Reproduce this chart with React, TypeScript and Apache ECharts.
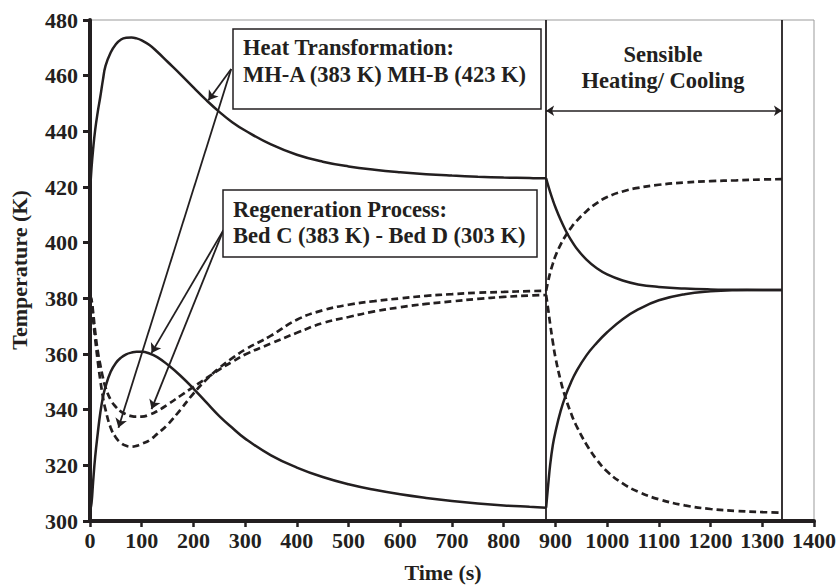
import React, { useEffect, useRef } from "react";
import * as echarts from "echarts";

// ---- data ----
const timeSeg1 = [0, 3, 6, 10, 15, 20, 25, 30, 40, 50, 60, 70, 80, 90, 100, 115, 130, 150, 175, 200, 225, 250, 275, 300, 350, 400, 450, 500, 550, 600, 650, 700, 750, 800, 850, 882];
const timeSeg2 = [882, 886, 890, 895, 900, 910, 920, 930, 940, 960, 980, 1000, 1030, 1060, 1100, 1150, 1200, 1250, 1300, 1338];

// Heat transformation phase (0 - 882 s)
const solidUpperSeg1 = [418, 427, 433.5, 440.5, 447, 452.5, 458.5, 463.5, 468.3, 471.3, 473, 473.6, 473.7, 473.4, 472.7, 471, 468.6, 465, 460.5, 455.8, 451.2, 447, 443.3, 440.3, 435.3, 431.6, 429.1, 427.4, 426.2, 425.3, 424.6, 424.1, 423.7, 423.4, 423.2, 423.1];
const solidLowerSeg1 = [303.5, 306.5, 314, 323, 331.5, 339, 344.5, 348.3, 353.6, 356.8, 358.7, 359.9, 360.5, 360.8, 360.8, 360.2, 358.9, 356.2, 352.2, 347.6, 342.6, 337.7, 333.5, 329.6, 323.6, 319.2, 315.8, 313.2, 311.2, 309.6, 308.3, 307.2, 306.3, 305.6, 305.1, 304.8];
const dashedUpperSeg1 = [381, 379, 372.5, 365.5, 357.5, 350.5, 344.5, 340, 333.5, 330, 328, 327, 326.7, 327, 327.7, 329, 331.3, 334.6, 340, 345.8, 350.8, 355, 358.5, 361.6, 366.6, 372.3, 375.7, 377.7, 379, 380, 380.9, 381.5, 382, 382.3, 382.6, 382.7];
const dashedLowerSeg1 = [381, 379.4, 375, 368, 361, 356, 351.5, 348, 343.5, 341, 339.3, 338.3, 337.7, 337.5, 337.5, 338.2, 339.5, 341.8, 345, 348.2, 351.3, 354.4, 357.2, 359.8, 363.8, 367.6, 371.1, 373.3, 375.3, 376.8, 378, 378.9, 379.8, 380.5, 381, 381.2];

// Sensible heating / cooling phase (882 - 1338 s)
const solidUpperSeg2 = [423.1, 420.5, 418.1, 415.3, 412.7, 408.2, 404.3, 401, 398.2, 393.9, 390.8, 388.6, 386.4, 385, 384.1, 383.5, 383.2, 383.1, 383, 383];
const solidLowerSeg2 = [304.8, 313, 320.5, 327.3, 332, 339.5, 345.2, 349.8, 353.6, 359.5, 364, 367.8, 372.5, 376, 379.3, 381.5, 382.5, 382.9, 383, 383];
const dashedUpperSeg2 = [382.7, 386.2, 389.3, 392.5, 395.2, 399.3, 402.6, 405.3, 407.6, 411.3, 414.2, 416.4, 418.4, 419.7, 420.8, 421.6, 422.1, 422.4, 422.7, 422.8];
const dashedLowerSeg2 = [381.2, 376, 370.5, 364.3, 358.8, 350.5, 344, 338.8, 334.4, 327.5, 322, 317.8, 313.5, 310.5, 307.8, 305.6, 304.3, 303.6, 303.2, 303];

// phase boundaries (s)
const phaseBoundaries = [882, 1338];
const sensibleArrowLevel = 447.4;

// annotation arrows [fromTime, fromTemp, toTime, toTemp]
const annotationArrows = [
  [273, 462.4, 229, 451.2],
  [273, 462.4, 55, 333.5],
  [258, 404.5, 119, 360.4],
  [258, 404.5, 119, 340.2],
];

const INK = "#231f20";
const FONT = '"Liberation Serif", "Times New Roman", serif';

function zip(ts: number[], vs: number[]) {
  return ts.map((t, i) => [t, vs[i]]);
}

function curve(data: number[][], dashed: boolean, extra: any = {}) {
  return {
    type: "line",
    data,
    smooth: 0.45,
    showSymbol: false,
    symbol: "none",
    silent: true,
    lineStyle: { color: INK, width: dashed ? 2.7 : 2.5, type: dashed ? [7, 4] : "solid", cap: "butt" },
    emphasis: { disabled: true },
    ...extra,
  };
}

function textEl(text: string, x: number, y: number, align: string, size = 22.5, rotation = 0) {
  return {
    type: "text",
    x,
    y,
    rotation,
    z: 100,
    style: {
      text,
      fill: INK,
      font: `bold ${size}px ${FONT}`,
      fontFamily: FONT,
      fontWeight: "bold",
      fontSize: size,
      textAlign: align,
      align,
      textVerticalAlign: "middle",
      verticalAlign: "middle",
    },
  };
}

export default function App() {
  const ref = useRef<HTMLDivElement>(null);

  useEffect(() => {
    if (!ref.current) return;
    const chart = echarts.init(ref.current, null, { renderer: "svg" });

    const option: any = {
      animation: false,
      backgroundColor: "#ffffff",
      grid: {
        left: 90,
        top: 20,
        width: 726,
        height: 501,
        show: true,
        borderColor: "#9b9b9b",
        borderWidth: 1,
        backgroundColor: "transparent",
      },
      xAxis: {
        type: "value",
        min: 0,
        max: 1400,
        interval: 100,
        axisLine: { show: true, onZero: false, lineStyle: { color: INK, width: 4 } },
        axisTick: { show: true, inside: false, length: 6, lineStyle: { color: INK, width: 2.5 } },
        axisLabel: {
          color: INK,
          fontFamily: FONT,
          fontWeight: "bold",
          fontSize: 22,
          margin: 8,
          formatter: (v: number) => String(v),
        },
        splitLine: { show: false },
      },
      yAxis: {
        type: "value",
        min: 300,
        max: 480,
        interval: 20,
        axisLine: { show: true, onZero: false, lineStyle: { color: INK, width: 4 } },
        axisTick: { show: true, inside: false, length: 7, lineStyle: { color: INK, width: 3 } },
        axisLabel: {
          color: INK,
          fontFamily: FONT,
          fontWeight: "bold",
          fontSize: 22,
          margin: 12,
          formatter: (v: number) => String(v),
        },
        splitLine: { show: false },
      },
      series: [
        curve(zip(timeSeg1, solidUpperSeg1), false, {
          markLine: {
            silent: true,
            symbol: ["none", "arrow"],
            symbolSize: 9,
            label: { show: false },
            emphasis: { disabled: true },
            lineStyle: { color: INK, width: 1.8, type: "solid" },
            data: annotationArrows.map((a) => [{ coord: [a[0], a[1]] }, { coord: [a[2], a[3]] }]),
          },
        }),
        curve(zip(timeSeg1, solidLowerSeg1), false, {
          markLine: {
            silent: true,
            symbol: ["none", "none"],
            label: { show: false },
            emphasis: { disabled: true },
            lineStyle: { color: INK, width: 1.8, type: "solid" },
            data: phaseBoundaries.map((b) => ({ xAxis: b })),
          },
        }),
        curve(zip(timeSeg1, dashedUpperSeg1), true),
        curve(zip(timeSeg1, dashedLowerSeg1), true),
        curve(zip(timeSeg2, solidUpperSeg2), false, {
          markLine: {
            silent: true,
            symbol: ["arrow", "arrow"],
            symbolSize: 8,
            label: { show: false },
            emphasis: { disabled: true },
            lineStyle: { color: INK, width: 1.5, type: "solid" },
            data: [[{ coord: [phaseBoundaries[0], sensibleArrowLevel] }, { coord: [phaseBoundaries[1], sensibleArrowLevel] }]],
          },
        }),
        curve(zip(timeSeg2, solidLowerSeg2), false),
        curve(zip(timeSeg2, dashedUpperSeg2), true),
        curve(zip(timeSeg2, dashedLowerSeg2), true),
      ],
      graphic: [
        {
          type: "rect",
          z: 90,
          shape: { x: 233, y: 29, width: 308, height: 80 },
          style: { fill: "#ffffff", stroke: INK, lineWidth: 1.5 },
        },
        {
          type: "rect",
          z: 90,
          shape: { x: 223, y: 190, width: 314, height: 67 },
          style: { fill: "#ffffff", stroke: INK, lineWidth: 1.5 },
        },
        textEl("Heat Transformation:", 243, 47.5, "left"),
        textEl("MH-A (383 K) MH-B (423 K)", 243, 74, "left"),
        textEl("Regeneration Process:", 233, 209, "left"),
        textEl("Bed C (383 K) - Bed D (303 K)", 233, 235, "left"),
        textEl("Sensible", 663, 54.5, "center"),
        textEl("Heating/ Cooling", 663, 80.5, "center"),
        textEl("Time (s)", 443, 572, "center", 22),
        textEl("Temperature (K)", 19, 270, "center", 22, Math.PI / 2),
      ],
    };

    chart.setOption(option);
    return () => chart.dispose();
  }, []);

  return (
    <div
      ref={ref}
      style={{ position: "absolute", left: 0, top: 0, width: 839, height: 585, background: "#fff" }}
    />
  );
}
